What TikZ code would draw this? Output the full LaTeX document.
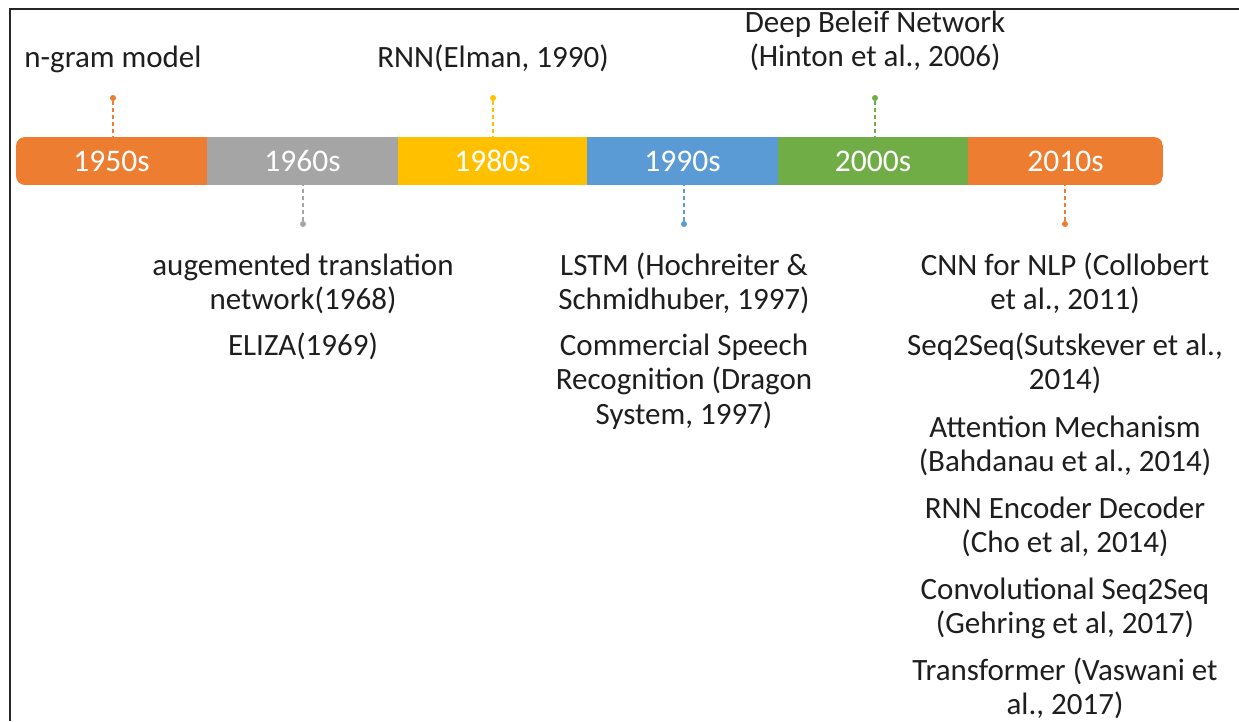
\documentclass[tikz,border=0pt]{standalone}
\usepackage{fontspec}
\setmainfont{Carlito}
\definecolor{cOrange}{HTML}{ED7D31}
\definecolor{cGray}{HTML}{A5A5A5}
\definecolor{cYellow}{HTML}{FFC000}
\definecolor{cBlue}{HTML}{5B9BD5}
\definecolor{cGreen}{HTML}{70AD47}
\definecolor{cText}{HTML}{1E1E1E}
\begin{document}
\begin{tikzpicture}[x=1pt,y=-1pt,
  seg/.style={rectangle, inner sep=0, minimum height=48pt, text=white, font=\fontsize{31.5}{34.5}\selectfont},
  dotmark/.style={circle, inner sep=0, minimum size=6pt},
  lbl/.style={align=center, inner sep=0, text=cText, font=\fontsize{31}{34.5}\selectfont},
  conn/.style={dashed, dash pattern=on 4pt off 3pt, line width=1.3pt}
]
\useasboundingbox (0,0) rectangle (1239,721);
\fill[white] (0,0) rectangle (1239,721);
\draw[line width=2pt, black!85] (10,721) -- (10,8.5) -- (1239,8.5);

\begin{scope}
\clip[rounded corners=9pt] (16,137) rectangle (1163,185);
\node[seg, fill=cOrange, minimum width=191.4pt] (s1) at (111.5,161) {1950s};
\node[seg, fill=cGray,   minimum width=191.4pt] (s2) at (302.5,161) {1960s};
\node[seg, fill=cYellow, minimum width=189.4pt] (s3) at (492.5,161) {1980s};
\node[seg, fill=cBlue,   minimum width=191.4pt] (s4) at (682.5,161) {1990s};
\node[seg, fill=cGreen,  minimum width=190.4pt] (s5) at (873,161) {2000s};
\node[seg, fill=cOrange, minimum width=195.4pt] (s6) at (1065.5,161) {2010s};
\end{scope}

% top markers
\node[dotmark, fill=cOrange] (d1) at (113,98) {};
\node[dotmark, fill=cYellow] (d3) at (493,98) {};
\node[dotmark, fill=cGreen]  (d5) at (875,98) {};
\draw[conn, cOrange] (d1) -- (d1 |- s1.north);
\draw[conn, cYellow] (d3) -- (d3 |- s3.north);
\draw[conn, cGreen]  (d5) -- (d5 |- s5.north);

% bottom markers
\node[dotmark, fill=cGray]   (d2) at (303,224) {};
\node[dotmark, fill=cBlue]   (d4) at (684,224) {};
\node[dotmark, fill=cOrange] (d6) at (1065,224) {};
\draw[conn, cGray]   (d2) -- (d2 |- s2.south);
\draw[conn, cBlue]   (d4) -- (d4 |- s4.south);
\draw[conn, cOrange] (d6) -- (d6 |- s6.south);

% labels above (anchor = baseline of last line)
\node[lbl, anchor=base] (t1) at (113,67) {n-gram model};
\node[lbl, anchor=base] (t3) at (493,67) {RNN(Elman, 1990)};
\node[lbl, anchor=base] (t5) at (875,66.5) {Deep Beleif Network\\(Hinton et al., 2006)};

% labels below
\node[lbl, anchor=base] (b2a) at (303,309.5) {augemented translation\\network(1968)};
\node[lbl, anchor=base] (b2b) at (303,355) {ELIZA(1969)};
\node[lbl, anchor=base] (b4a) at (684,309.5) {LSTM (Hochreiter \&\\Schmidhuber, 1997)};
\node[lbl, anchor=base] (b4b) at (684,424) {Commercial Speech\\Recognition (Dragon\\System, 1997)};
\node[lbl, anchor=base] (b6a) at (1065,309.5) {CNN for NLP (Collobert\\et al., 2011)};
\node[lbl, anchor=base] (b6b) at (1065,389.5) {Seq2Seq(Sutskever et al.,\\2014)};
\node[lbl, anchor=base] (b6c) at (1065,471.5) {Attention Mechanism\\(Bahdanau et al., 2014)};
\node[lbl, anchor=base] (b6d) at (1065,552.5) {RNN Encoder Decoder\\(Cho et al, 2014)};
\node[lbl, anchor=base] (b6e) at (1065,633.5) {Convolutional Seq2Seq\\(Gehring et al, 2017)};
\node[lbl, anchor=base] (b6f) at (1065,714.5) {Transformer (Vaswani et\\al., 2017)};
\end{tikzpicture}
\end{document}
